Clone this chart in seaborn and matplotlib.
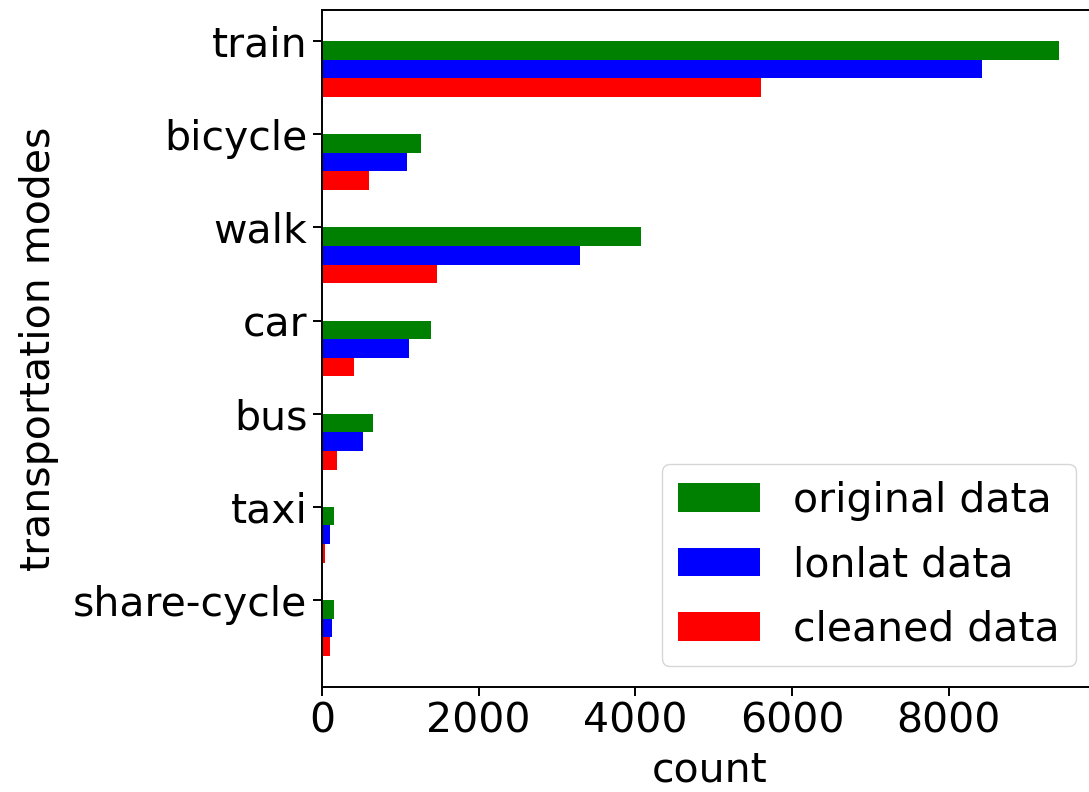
"""Transportation mode counts: original vs lonlat vs cleaned data."""

import matplotlib

matplotlib.use("Agg")
import matplotlib.pyplot as plt
import numpy as np
import pandas as pd
import seaborn as sns


MODES = ["train", "bicycle", "walk", "car", "bus", "taxi", "share-cycle"]
ORIGINAL = [9415, 1270, 4071, 1395, 645, 149, 149]
LONLAT = [8429, 1090, 3293, 1115, 526, 102, 127]
CLEANED = [5611, 597, 1462, 411, 196, 34, 102]

SERIES = ["original data", "lonlat data", "cleaned data"]
COLORS = {"original data": "green", "lonlat data": "blue", "cleaned data": "red"}


def build_frame() -> pd.DataFrame:
    rows = []
    for name, values in zip(SERIES, [ORIGINAL, LONLAT, CLEANED]):
        for mode, value in zip(MODES, values):
            rows.append({"mode": mode, "count": value, "dataset": name})
    return pd.DataFrame(rows)


def main() -> None:
    df = build_frame()
    plt.rcParams.update(
        {
            "font.size": 29.5,
            "axes.linewidth": 1.4,
            "xtick.major.width": 1.4,
            "ytick.major.width": 1.4,
            "xtick.major.size": 6.5,
            "ytick.major.size": 6.5,
            "xtick.major.pad": 4.5,
            "ytick.major.pad": 4,
        }
    )

    fig = plt.figure(figsize=(10.89, 7.92), dpi=100)
    ax = fig.add_axes([0.2957, 0.133, 0.711, 0.854])

    sns.barplot(
        data=df,
        x="count",
        y="mode",
        hue="dataset",
        hue_order=SERIES,
        order=MODES,
        palette=COLORS,
        orient="h",
        width=0.6,
        gap=0,
        saturation=1,
        linewidth=0,
        ax=ax,
    )

    # ticks sit at the top edge of each group
    ax.set_yticks(np.arange(len(MODES)) - 0.3, labels=MODES)
    ax.set_ylim(len(MODES) - 0.37, -0.63)
    ax.set_xlim(0, max(ORIGINAL) * 1.05)
    ax.set_xticks([0, 2000, 4000, 6000, 8000])
    ax.set_xlabel("count", labelpad=6)
    ax.set_ylabel("transportation modes", labelpad=10)
    ax.legend(loc="lower right", title=None, labelspacing=0.6)

    fig.savefig("out.png", dpi=100)
    plt.close(fig)


if __name__ == "__main__":
    main()
